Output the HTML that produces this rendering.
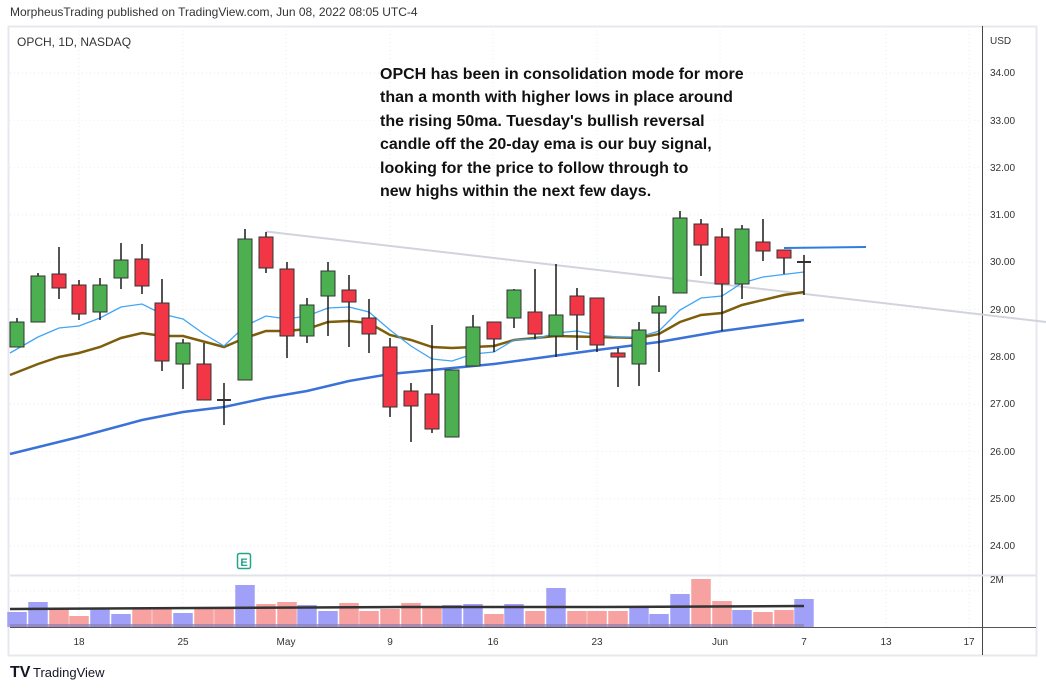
<!DOCTYPE html>
<html><head><meta charset="utf-8"><style>
html,body{margin:0;padding:0;background:#fff;}
svg{display:block;font-family:"Liberation Sans",sans-serif;}
</style></head><body>
<svg id="s" width="1046" height="689" viewBox="0 0 1046 689" xmlns="http://www.w3.org/2000/svg">
<rect width="1046" height="689" fill="#fff"/>
<text x="10" y="16" font-size="12" fill="#333">MorpheusTrading published on TradingView.com, Jun 08, 2022 08:05 UTC-4</text>
<rect x="8.5" y="26.5" width="1028" height="629" fill="none" stroke="#e6e8ee" stroke-width="2"/>
<g id="grid" stroke="#e9ebf0" stroke-dasharray="1,3" stroke-width="1"></g>
<line x1="982.5" y1="26" x2="982.5" y2="655" stroke="#444" stroke-width="1"/>
<line x1="10" y1="575.5" x2="1036" y2="575.5" stroke="#e0e3eb" stroke-width="2"/>
<line x1="10" y1="627.5" x2="1036" y2="627.5" stroke="#555" stroke-width="1"/>
<text x="17" y="46" font-size="12" fill="#333">OPCH, 1D, NASDAQ</text>
<text x="990" y="44" font-size="10" fill="#333">USD</text>
<g font-size="10" fill="#333">
<text x="990" y="76">34.00</text><text x="990" y="124">33.00</text><text x="990" y="171">32.00</text>
<text x="990" y="218">31.00</text><text x="990" y="265">30.00</text><text x="990" y="313">29.00</text>
<text x="990" y="360">28.00</text><text x="990" y="407">27.00</text><text x="990" y="455">26.00</text>
<text x="990" y="502">25.00</text><text x="990" y="549">24.00</text><text x="990" y="583">2M</text>
</g>
<g font-size="10" fill="#333" text-anchor="middle">
<text x="79" y="645">18</text><text x="183" y="645">25</text><text x="286" y="645">May</text>
<text x="390" y="645">9</text><text x="493" y="645">16</text><text x="597" y="645">23</text>
<text x="720" y="645">Jun</text><text x="804" y="645">7</text><text x="886" y="645">13</text><text x="969" y="645">17</text>
</g>
<g id="vol"></g>
<polyline points="10,609 200,608 400,607 600,607 804,606" fill="none" stroke="#333" stroke-width="2.5"/>
<line x1="266" y1="231.5" x2="1046" y2="322" stroke="#d1d4dc" stroke-width="2"/>
<g id="ma" fill="none"></g>
<g id="c"></g>
<line x1="784" y1="248" x2="866" y2="247" stroke="#2f7de1" stroke-width="2"/>
<rect x="237.5" y="553.5" width="13" height="15" rx="2" fill="#fff" stroke="#22a38a" stroke-width="1.5"/>
<text x="244" y="566" font-size="11" fill="#22a38a" text-anchor="middle" font-weight="bold">E</text>
<g font-size="16" font-weight="bold" fill="#111">
<text x="380" y="79">OPCH has been in consolidation mode for more</text>
<text x="380" y="102">than a month with higher lows in place around</text>
<text x="380" y="126">the rising 50ma.  Tuesday's bullish reversal</text>
<text x="380" y="149">candle off the 20-day ema is our buy signal,</text>
<text x="380" y="173">looking for the price to follow through to</text>
<text x="380" y="196">new highs within the next few days.</text>
</g>
<text x="10" y="677" font-size="16" font-weight="bold" fill="#131722">TV</text>
<text x="33" y="677" font-size="13" fill="#131722">TradingView</text>
</svg>
<script>
var NS="http://www.w3.org/2000/svg";
function el(p,t,a){var e=document.createElementNS(NS,t);for(var k in a)e.setAttribute(k,a[k]);p.appendChild(e);return e;}
var g=document.getElementById("grid");
for(var i=0;i<11;i++){var y=73+i*47.3;el(g,"line",{x1:10,y1:y,x2:982,y2:y});}
el(g,"line",{x1:10,y1:591,x2:982,y2:591});
[79,183,286,390,493,597,720,804,886,969].forEach(function(x){el(g,"line",{x1:x,y1:26,x2:x,y2:627});});
var C=[[17,322,347,318,347,'g'],[38,276,322,273,322,'g'],[59,274,288,247,299,'r'],[79,285,314,280,320,'r'],[100,285,312,278,320,'g'],
[121,260,278,243,289,'g'],[142,259,286,244,294,'r'],[162,303,361,279,371,'r'],[183,343,364,339,389,'g'],[204,364,400,343,400,'r'],
[224,400,400,383,425,'d'],[245,239,380,229,380,'g'],[266,237,268,232,273,'r'],[287,269,336,262,358,'r'],[307,305,336,298,343,'g'],
[328,271,296,262,336,'g'],[349,290,302,275,347,'r'],[369,318,334,299,353,'r'],[390,347,407,338,417,'r'],[411,391,406,383,442,'r'],
[432,394,429,325,433,'r'],[452,370,437,370,437,'g'],[473,327,366,315,366,'g'],[494,322,339,322,352,'r'],[514,290,318,289,328,'g'],
[535,312,334,269,339,'r'],[556,315,336,264,357,'g'],[577,296,315,288,350,'r'],[597,298,345,298,352,'r'],[618,353,357,348,387,'r'],
[639,330,364,322,386,'g'],[659,306,313,296,372,'g'],[680,218,293,211,293,'g'],[701,224,245,219,276,'r'],[722,237,284,228,331,'r'],
[742,229,284,225,299,'g'],[763,242,251,219,261,'r'],[784,250,258,250,274,'r'],[804,262,262,255,295,'d']];
var c=document.getElementById("c");
C.forEach(function(b){
 el(c,"line",{x1:b[0],y1:b[3],x2:b[0],y2:b[4],stroke:"#1a1a1a","stroke-width":1.5});
 if(b[5]=='d'){el(c,"line",{x1:b[0]-7,y1:b[1],x2:b[0]+7,y2:b[1],stroke:"#333","stroke-width":2});}
 else el(c,"rect",{x:b[0]-7,y:b[1],width:14,height:Math.max(2,b[2]-b[1]),fill:b[5]=='g'?'#4caf50':'#f23645',stroke:"#333","stroke-width":1});
});
var V=[612,602,609,616,608,614,608,608,613,609,607,585,604,602,605,611,603,611,609,603,606,605,604,614,604,611,588,611,611,611,607,614,594,579,601,610,612,610,599];
var vg=document.getElementById("vol");
V.forEach(function(t,i){var b=C[i];var up=b[5]=='g'||(i==38);
 el(vg,"rect",{x:b[0]-9.75,y:t,width:19.5,height:627-t,fill:up?'#a0a0f8':'#f7a1a1'});});
el(vg,"rect",{x:10,y:624,width:794,height:3,fill:'#8a7fb5',opacity:0.7});
var ma=document.getElementById("ma");
function pl(pts,col,w){el(ma,"polyline",{points:pts,stroke:col,"stroke-width":w,fill:"none"});}
pl("10,454 79,437 142,420 183,412 224,407 266,398 307,391 349,381 390,374 411,372 494,364 597,350 659,342 722,331 804,320","#3a72d8",2.5);
pl("10,375 38,364 59,357 79,353 100,347 121,338 142,333 162,336 183,336 224,347 245,338 266,331 287,331 307,329 328,322 349,321 369,323 390,335 411,340 432,347 452,348 494,346 514,340 556,336 597,337 639,338 659,334 680,322 701,315 722,313 742,305 784,295 804,292","#7d5e0a",2.5);
pl("10,353 38,337 59,328 79,326 100,318 121,307 142,304 162,314 183,319 204,334 224,346 245,326 266,316 287,319 307,316 328,308 349,307 369,312 390,330 411,346 432,359 452,361 473,354 494,352 514,340 535,339 556,333 577,331 597,335 618,337 639,337 659,331 680,310 701,298 722,296 742,283 763,277 804,272","#42a5f5",1.3);
</script>
</body></html>
